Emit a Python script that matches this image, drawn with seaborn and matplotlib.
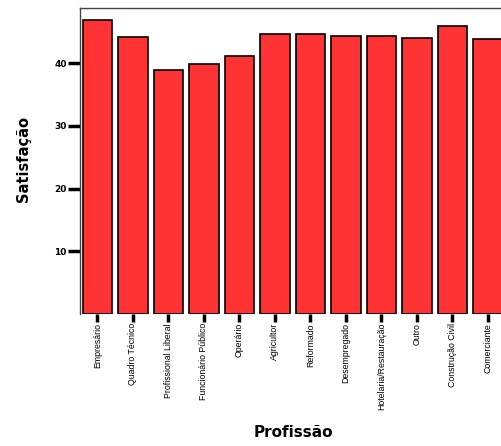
import matplotlib
matplotlib.use("Agg")
import matplotlib.pyplot as plt
import seaborn as sns
import pandas as pd

# Mean satisfaction per profession
profissoes = ["Empresário", "Quadro Técnico", "Profissional Liberal",
              "Funcionário Público", "Operário", "Agricultor", "Reformado",
              "Desempregado", "Hotelaria/Restauração", "Outro",
              "Construção Civil", "Comerciante"]
satisfacao = [46.9, 44.2, 38.9, 39.9, 41.1, 44.6, 44.7, 44.4, 44.4, 44.0, 45.9, 43.8]
y_ticks = [10, 20, 30, 40]

df = pd.DataFrame({"Profissão": profissoes, "Satisfação": satisfacao})

sns.set_style("white")
plt.rcParams["font.family"] = ["Liberation Sans", "DejaVu Sans"]
plt.rcParams["text.color"] = "black"
plt.rcParams["axes.labelcolor"] = "black"

fig = plt.figure(figsize=(5.02, 4.46), dpi=100)
ax = fig.add_axes([80 / 502, 1 - 314 / 446, 426 / 502, 306 / 446])

sns.barplot(data=df, x="Profissão", y="Satisfação", order=profissoes,
            color="#ff3333", saturation=1, width=0.83,
            edgecolor="black", linewidth=1.2, ax=ax)

ax.set_xlim(-0.49, 11.51)
ax.set_ylim(0, 48.8)
ax.set_yticks(y_ticks)
ax.set_yticklabels([str(t) for t in y_ticks], fontsize=6.5, fontweight="bold",
                   family=["DejaVu Sans"])
ax.set_xticks(range(len(profissoes)))
ax.set_xticklabels(profissoes, rotation=90, fontsize=6.3,
                   family=["Liberation Sans Narrow", "Liberation Sans", "DejaVu Sans"])

ax.tick_params(axis="both", bottom=True, left=True, direction="out",
               width=2.5, color="black", labelcolor="black")
ax.tick_params(axis="x", length=6, pad=0.5)
ax.tick_params(axis="y", length=8.5, pad=1)

for side in ["left", "top"]:
    ax.spines[side].set_visible(True)
    ax.spines[side].set_color("#444444")
    ax.spines[side].set_linewidth(1.0)
ax.spines["right"].set_visible(False)
ax.spines["bottom"].set_visible(False)

ax.set_ylabel("Satisfação", fontsize=10.5, fontweight="bold", family=["DejaVu Sans"])
ax.set_xlabel("Profissão", fontsize=11, fontweight="bold", family=["DejaVu Sans"])
ax.yaxis.set_label_coords(-0.115, 0.507)
ax.xaxis.set_label_coords(0.5, -0.363)

fig.savefig("out.png", dpi=100)
